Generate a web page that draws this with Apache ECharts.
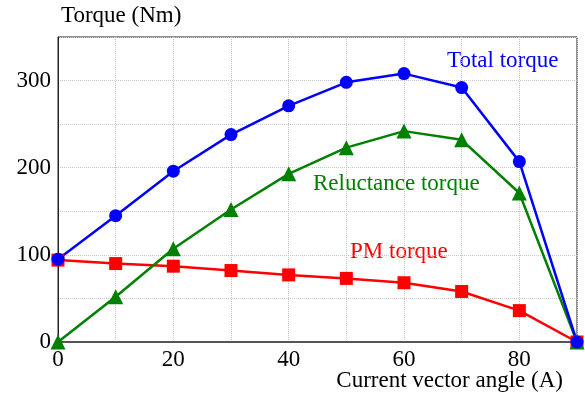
<!DOCTYPE html>
<html>
<head>
<meta charset="utf-8">
<script src="https://cdn.jsdelivr.net/npm/echarts@6/dist/echarts.min.js"></script>
<style>
  html, body { margin: 0; padding: 0; background: #fff; }
  #chart { width: 585px; height: 396px; }
</style>
</head>
<body>
<div id="chart"></div>
<script>
// current vector angle (deg)
const angles = [0, 10, 20, 30, 40, 50, 60, 70, 80, 90]
const totalTorque = [95, 145, 196, 238, 271, 298, 308, 292, 207, 0]
const reluctanceTorque = [0, 52, 107, 152, 193, 223, 242, 232, 171, 0]
const pmTorque = [94, 90, 87, 82, 77, 73, 68, 58, 36, 0]
const yTicks = [0, 100, 200, 300]

const font = '"Liberation Serif", "Times New Roman", serif'

function pairs(ys) {
  return angles.map((a, i) => [a, ys[i]])
}

const chart = echarts.init(document.getElementById('chart'))
chart.setOption({
  animation: false,
  grid: {
    left: 58,
    right: 8,
    top: 37,
    bottom: 54,
    containLabel: false,
    outerBoundsMode: 'none',
    show: true,
    borderColor: '#222',
    borderWidth: 1
  },
  xAxis: {
    type: 'value',
    min: 0,
    max: 90,
    interval: 10,
    axisLine: { lineStyle: { color: '#555', width: 2 } },
    axisTick: { show: false },
    axisLabel: {
      fontFamily: font,
      fontSize: 23,
      color: '#000',
      margin: 6,
      formatter: v => (v % 20 === 0 && v < 90 ? String(v) : '')
    },
    splitLine: { lineStyle: { color: '#c8c8c8', type: 'dotted' } }
  },
  yAxis: {
    type: 'value',
    min: 0,
    max: 350,
    interval: 50,
    name: 'Torque (Nm)',
    nameLocation: 'end',
    nameGap: 10,
    nameTextStyle: {
      fontFamily: font,
      fontSize: 23,
      color: '#000',
      align: 'left',
      padding: [0, 0, 0, 3]
    },
    axisLine: { show: true, lineStyle: { color: '#222', width: 1 } },
    axisTick: { show: false },
    axisLabel: {
      fontFamily: font,
      fontSize: 23,
      color: '#000',
      margin: 7,
      formatter: v => (yTicks.includes(v) ? String(v) : '')
    },
    splitLine: { lineStyle: { color: '#c8c8c8', type: 'dotted' } }
  },
  series: [
    {
      name: 'PM torque',
      type: 'line',
      data: pairs(pmTorque),
      symbol: 'rect',
      symbolSize: 13,
      lineStyle: { color: '#ff0000', width: 2.5 },
      itemStyle: { color: '#ff0000' }
    },
    {
      name: 'Reluctance torque',
      type: 'line',
      data: pairs(reluctanceTorque),
      symbol: 'triangle',
      symbolSize: 15,
      lineStyle: { color: '#008000', width: 2.5 },
      itemStyle: { color: '#008000' }
    },
    {
      name: 'Total torque',
      type: 'line',
      data: pairs(totalTorque),
      symbol: 'circle',
      symbolSize: 13,
      lineStyle: { color: '#0000ff', width: 2.5 },
      itemStyle: { color: '#0000ff' }
    }
  ],
  graphic: [
    // x axis title
    {
      type: 'text', right: 22, top: 369,
      style: { text: 'Current vector angle (A)', fontFamily: font, fontSize: 23, fill: '#000' }
    },
    {
      type: 'text', left: 447, top: 49,
      style: { text: 'Total torque', fontFamily: font, fontSize: 23, fill: '#0000ff' }
    },
    {
      type: 'text', left: 313, top: 172,
      style: { text: 'Reluctance torque', fontFamily: font, fontSize: 23, fill: '#008000' }
    },
    {
      type: 'text', left: 350, top: 240,
      style: { text: 'PM torque', fontFamily: font, fontSize: 23, fill: '#ff0000' }
    }
  ]
})
</script>
</body>
</html>
